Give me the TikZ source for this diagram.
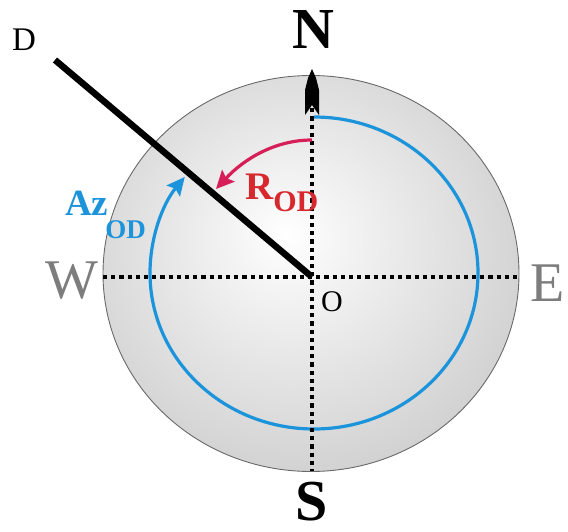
\documentclass[tikz,border=0pt]{standalone}
\usepackage{fontspec}
\setmainfont{Liberation Serif}
\usetikzlibrary{arrows.meta}
\definecolor{azblue}{RGB}{28,148,220}
\definecolor{rodarc}{RGB}{214,31,88}
\definecolor{rodtext}{RGB}{214,40,45}
\definecolor{wegray}{RGB}{125,125,125}
\definecolor{rimgray}{RGB}{105,105,105}
\pgfdeclareradialshading{diskshade}{\pgfpoint{-3bp}{5bp}}{color(0bp)=(white); color(6bp)=(white!96!black); color(50bp)=(black!31); color(70bp)=(black!34)}
\tikzset{
  dotline/.style={line width=3.6pt, dash pattern=on 4.2pt off 4pt, black},
  bigbold/.style={font=\fontsize{58}{58}\selectfont\bfseries, inner sep=0pt},
  wetext/.style={font=\fontsize{56}{56}\selectfont, text=wegray, inner sep=0pt},
  small/.style={font=\fontsize{33}{33}\selectfont, inner sep=0pt},
  arcarrow/.style={line width=3.2pt, -{Stealth[length=18pt,width=17pt,inset=3pt]}},
}
\begin{document}
\begin{tikzpicture}[x=1pt,y=-1pt]
\useasboundingbox (0,0) rectangle (568,532);
% named points
\coordinate (C) at (311,273.5);
\coordinate (O) at (312,277);
\coordinate (D) at (55,60);
\coordinate (Ntop) at (312,100);
\coordinate (Sbot) at (312,471);
\coordinate (Wl) at (103,277);
\coordinate (Er) at (519,277);
\coordinate (blueStart) at (314,117);
\coordinate (redStart) at (312,140);
\coordinate (redEnd) at (216,189);
% disk
\shade[shading=diskshade] (C) ellipse[x radius=208, y radius=198];
\draw[rimgray, line width=0.9pt] (C) ellipse[x radius=208, y radius=198];
% blue azimuth arc
\draw[azblue, arcarrow] (blueStart) arc[start angle=-90, end angle=218, x radius=164, y radius=156];
% north arrow
\fill[black] (312,69) -- (316,78) -- (319,90) -- (319,115) -- (312,105) -- (305,115) -- (305,90) -- (308,78) -- cycle;
% dotted axes
\draw[dotline] (Ntop) -- (Sbot);
\draw[dotline] (Wl) -- (Er);
% direction line
\draw[line width=6.5pt, black] (O) -- (D);
% red arc
\draw[rodarc, arcarrow] (redStart) .. controls (275,140) and (244,159) .. (redEnd);
% labels
\node[bigbold] (N) at (313,30) {N};
\node[bigbold] (S) at (312,502) {S};
\node[wetext] (W) at (72,281) {W};
\node[wetext] (E) at (548,283) {E};
\node[small] (Dl) at (24,40) {D};
\node[font=\fontsize{30}{30}\selectfont, inner sep=0pt] (Ol) at (332,302) {O};
\node[anchor=base west, inner sep=0pt, text=rodtext, font=\bfseries] (rod) at (245,200)
  {\fontsize{39}{39}\selectfont R\raisebox{-12pt}{\fontsize{30}{30}\selectfont OD}};
\node[anchor=base west, inner sep=0pt, text=azblue, font=\bfseries] (az) at (65,215)
  {\fontsize{37}{37}\selectfont Az\kern-3pt\raisebox{-23pt}{\fontsize{27}{27}\selectfont OD}};
\end{tikzpicture}
\end{document}
